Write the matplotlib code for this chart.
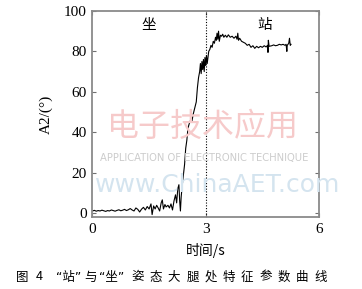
import numpy as np
import matplotlib.pyplot as plt

# time (s) and A2 angle (deg)
t = [0.00, 0.05, 0.10, 0.15, 0.20, 0.25, 0.30, 0.35, 0.40, 0.45, 0.50, 0.55, 0.60, 0.65,
     0.70, 0.75, 0.80, 0.85, 0.90, 0.95, 1.00, 1.05, 1.10, 1.15, 1.20, 1.25, 1.30, 1.35,
     1.40, 1.45, 1.50, 1.55, 1.58, 1.62, 1.66, 1.70, 1.74, 1.78, 1.82, 1.85, 1.88, 1.92,
     1.95, 2.00, 2.04, 2.08, 2.12, 2.16, 2.20, 2.23, 2.26, 2.29, 2.31, 2.33, 2.35, 2.38,
     2.41, 2.44, 2.47, 2.50, 2.53, 2.56, 2.60, 2.63, 2.67, 2.71, 2.75, 2.78, 2.81, 2.84,
     2.86, 2.88, 2.90, 2.92, 2.94, 2.96, 2.98, 3.00, 3.02, 3.04, 3.06, 3.08, 3.11, 3.14,
     3.17, 3.20, 3.23, 3.26, 3.28, 3.30, 3.32, 3.34, 3.36, 3.39, 3.42, 3.45, 3.48, 3.52,
     3.56, 3.60, 3.65, 3.70, 3.75, 3.80, 3.83, 3.85, 3.87, 3.90, 3.95, 4.00, 4.05, 4.10,
     4.15, 4.20, 4.25, 4.30, 4.35, 4.40, 4.45, 4.50, 4.55, 4.60, 4.64, 4.65, 4.66, 4.68,
     4.75, 4.80, 4.85, 4.90, 4.95, 5.00, 5.05, 5.10, 5.13, 5.15, 5.16, 5.20, 5.22, 5.24,
     5.26]
a2 = [1.0, 1.3, 0.9, 1.2, 1.0, 1.4, 1.1, 0.8, 1.2, 1.0, 1.5, 1.2, 0.9, 1.3,
      1.6, 1.1, 1.4, 1.8, 1.2, 1.6, 2.2, 1.5, 1.0, 2.5, 1.8, 0.5, 1.9, 2.8,
      1.5, 3.2, 2.0, 4.5, -0.8, 3.5, 2.0, 3.8, 2.5, 1.0, 5.0, 6.5, 2.0, 4.2,
      3.0, 3.8, 2.5, 4.5, 1.5, 6.0, 9.0, 5.0, 12.0, 14.0, 6.0, 1.0, 8.0, 14.0,
      19.0, 24.0, 32.0, 36.0, 42.0, 44.0, 46.0, 45.0, 49.0, 52.0, 55.0, 62.0, 67.0, 70.0,
      74.0, 69.0, 75.0, 71.0, 76.0, 70.0, 77.0, 73.0, 78.0, 74.0, 77.0, 80.0, 81.0, 83.0,
      82.0, 85.0, 84.0, 87.0, 85.5, 89.0, 86.0, 90.0, 85.0, 88.0, 87.5, 88.5, 87.0, 88.0,
      87.0, 88.2, 87.0, 87.5, 86.5, 87.5, 86.0, 89.0, 85.5, 86.5, 85.0, 84.5, 84.0, 83.0,
      83.5, 82.0, 82.8, 81.5, 82.5, 81.8, 82.5, 82.0, 82.8, 82.2, 83.0, 79.5, 85.5, 82.5,
      82.8, 83.2, 82.8, 83.0, 83.5, 83.2, 83.5, 83.0, 83.5, 80.0, 83.0, 84.0, 86.5, 83.0,
      83.5]

xticks = [0, 3, 6]
yticks = [0, 20, 40, 60, 80, 100]

caption_parts = ['图', '4', '“站”', '与', '“坐”',
                 '姿', '态', '大', '腿', '处', '特', '征', '参', '数', '曲', '线']

serif = ['Liberation Serif', 'DejaVu Serif']
cjk = ['Noto Sans CJK SC', 'DejaVu Sans']
quote_cjk = ['DejaVu Sans', 'Noto Sans CJK SC']

W, H = 362, 289
fig = plt.figure(figsize=(W / 100, H / 100), dpi=100)
ax = fig.add_axes([0.2555, 0.249, 0.6255, 0.713])

# faint watermark behind the plot
fig.text(0.56, 0.56, '电子技术应用', color='#f6caca', fontsize=23, family=cjk,
         ha='center', va='center', style='italic', zorder=0)
fig.text(0.565, 0.455, 'APPLICATION OF ELECTRONIC TECHNIQUE', color='#cccccc',
         fontsize=7.2, ha='center', va='center', zorder=0)
fig.text(0.6, 0.36, 'www.ChinaAET.com', color='#d4e4ef', fontsize=18,
         ha='center', va='center', zorder=0)
ax.patch.set_alpha(0)

ax.plot(t, a2, color='black', lw=0.8)
ax.axvline(3, color='black', lw=0.8, ls=(0, (1, 1.5)))

ax.set_xlim(0, 6)
ax.set_ylim(-2, 100)
ax.set_xticks(xticks)
ax.set_yticks(yticks)
ax.tick_params(direction='in', length=3, width=0.8, color='#707070',
               top=True, right=True, labelsize=11, pad=4)
for lab in ax.get_xticklabels() + ax.get_yticklabels():
    lab.set_family(serif)
for s in ax.spines.values():
    s.set_color('#8a8a8a')
    s.set_linewidth(1.3)

ax.text(1.5, 93, '坐', family=cjk, fontsize=10.5, ha='center', va='center')
ax.text(4.55, 93, '站', family=cjk, fontsize=10.5, ha='center', va='center')

ax.set_ylabel('A2/(°)', family=serif, fontsize=11, labelpad=8)
ax.set_xlabel('时间/s', family=cjk, fontsize=10, labelpad=5)

# caption, letter-spaced like the printed figure
cap_x = [22.5, 39.5, 69, 91, 112]
cap_x += [137.5 + 18.3 * k for k in range(len(caption_parts) - len(cap_x))]
for part, px in zip(caption_parts, cap_x):
    fig.text(px / W, 1 - 277 / H, part, family=quote_cjk if '“' in part else cjk,
             fontsize=9, ha='center', va='center')

fig.savefig('out.png', dpi=100)
